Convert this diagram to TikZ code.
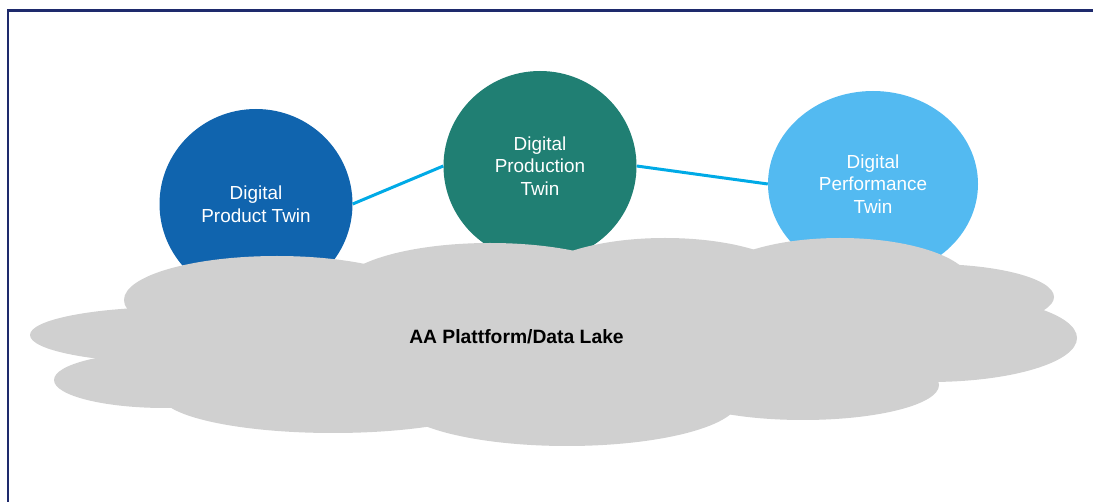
\documentclass[tikz,border=0pt]{standalone}
\usepackage{fontspec}
\setmainfont{Liberation Sans}
\usetikzlibrary{shapes.geometric}
\definecolor{framenavy}{RGB}{30,42,108}
\definecolor{productblue}{RGB}{16,100,174}
\definecolor{productiongreen}{RGB}{32,127,115}
\definecolor{performanceblue}{RGB}{83,186,241}
\definecolor{linkblue}{RGB}{0,170,230}
\definecolor{cloudgray}{RGB}{208,208,208}
\begin{document}
\begin{tikzpicture}[x=1pt,y=-1pt,
  twin/.style={ellipse,inner sep=0pt,text=white,align=center,
    font=\fontsize{18.9}{22.7}\selectfont},
  link/.style={linkblue,line width=3pt}]
  \useasboundingbox (0,0) rectangle (1093,502);
  \draw[framenavy,line width=2.7pt] (8,502) -- (8,10.3) -- (1093,10.3);
  % the three twins
  \node[twin,fill=productblue,minimum width=193pt,minimum height=190pt] (product) at (256,204) {Digital\\Product Twin};
  \node[twin,fill=productiongreen,minimum width=193pt,minimum height=190pt] (production) at (540,166) {Digital\\Production\\Twin};
  \node[twin,fill=performanceblue,minimum width=210pt,minimum height=186pt] (performance) at (873,184) {Digital\\Performance\\Twin};
  \draw[link] (product.east) -- (production.west);
  \draw[link] (production.east) -- (performance.west);
  % cloud made of overlapping lobes
  \fill[cloudgray] (150,290) rectangle (960,380);
  \foreach \cx/\cy/\rx/\ry in {175/335/145/28, 165/380/111/28, 277/300/153/44,
      490/290/152/47, 665/285/135/47, 840/285/132/47, 930/297/124/33,
      930/338/147/44, 803/385/136/35, 567/400/172/46, 333/395/172/38}
    \fill[cloudgray] (\cx,\cy) ellipse [x radius=\rx, y radius=\ry];
  \node[font=\bfseries\fontsize{19.3}{23}\selectfont,anchor=base] (lake) at (516.5,344) {AA Plattform/Data Lake};
\end{tikzpicture}
\end{document}
